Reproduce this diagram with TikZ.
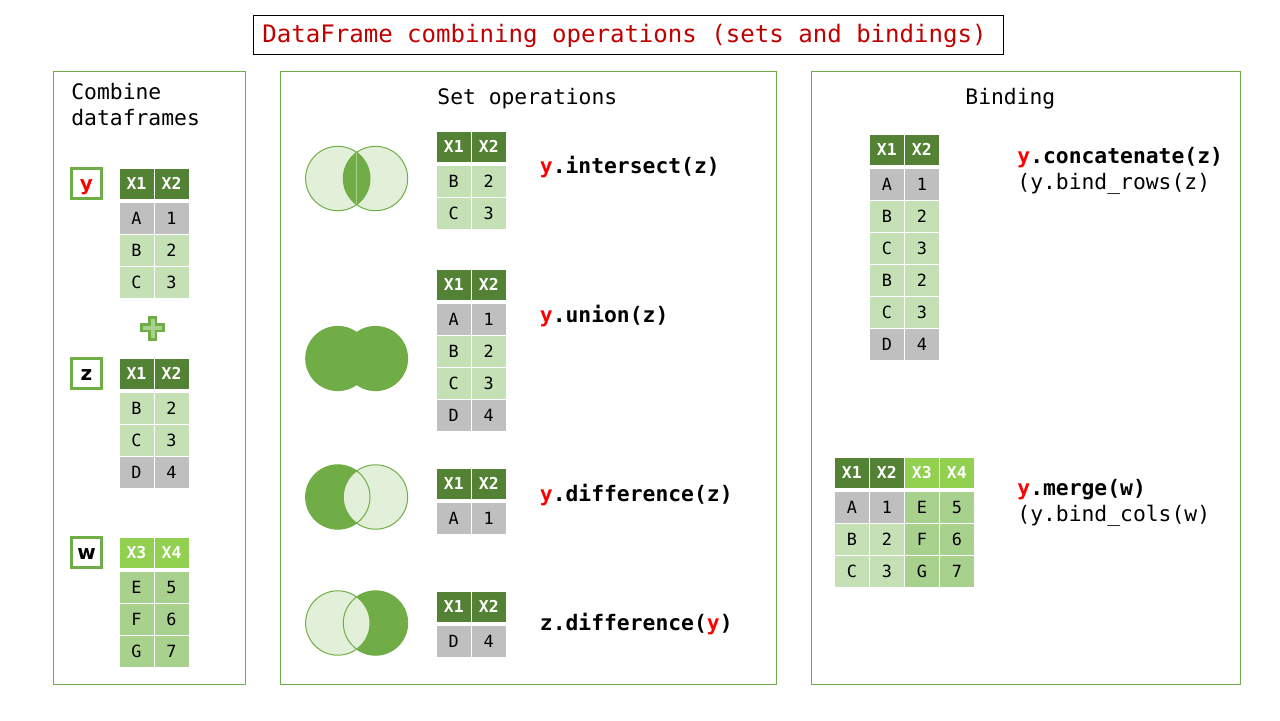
\documentclass[tikz,border=0pt]{standalone}
\usepackage{fontspec}
\setmonofont{DejaVu Sans Mono}
\setsansfont{DejaVu Sans}
\usetikzlibrary{positioning}

\definecolor{ringgreen}{HTML}{70AD47}
\definecolor{palegreen}{HTML}{E2F0D9}
\definecolor{headdark}{HTML}{548235}
\definecolor{headlime}{HTML}{92D050}
\definecolor{rowlight}{HTML}{C5E0B4}
\definecolor{rowmid}{HTML}{A9D18E}
\definecolor{rowgrey}{HTML}{BFBFBF}
\definecolor{titlered}{HTML}{C00000}

\begin{document}
\begin{tikzpicture}[
  x=0.5pt, y=-0.5pt,
  panel/.style={rectangle, draw=ringgreen, line width=0.5pt, anchor=north west, inner sep=0pt, outer sep=0pt},
  heading/.style={anchor=base west, inner sep=0pt, align=left, font=\ttfamily\fontsize{10.67}{13}\selectfont},
  opname/.style={anchor=base west, inner sep=0pt, font=\ttfamily\bfseries\fontsize{10.67}{12.6}\selectfont},
  opnote/.style={anchor=base west, inner sep=0pt, font=\ttfamily\fontsize{10.67}{12.6}\selectfont},
  tag/.style={rectangle, draw=ringgreen, line width=1.5pt, fill=white, minimum size=15pt, inner sep=0pt, text height=7.5pt, text depth=0.5pt, font=\sffamily\bfseries\fontsize{10}{12}\selectfont},
  cell/.style={rectangle, draw=white, line width=0.5pt, outer sep=0pt, inner sep=0pt, minimum width=17.5pt, minimum height=16pt, font=\ttfamily\fontsize{8.4}{9}\selectfont},
  hcell/.style={cell, text=white, minimum height=15.5pt, font=\ttfamily\bfseries\fontsize{8.2}{9}\selectfont},
  hd/.style={hcell, fill=headdark},
  hl/.style={hcell, fill=headlime},
  gy/.style={cell, fill=rowgrey},
  lt/.style={cell, fill=rowlight},
  md/.style={cell, fill=rowmid},
  venn/.style={draw=ringgreen, line width=0.5pt}
]
\useasboundingbox (0,0) rectangle (1280,720);

% Title and panels
\node[rectangle, draw=black, line width=0.5pt, anchor=north west, minimum width=375pt, minimum height=19.5pt, inner sep=0pt, outer sep=0pt] (titlebox) at (253.5,15) {};
\node[anchor=west, inner sep=0pt, text=titlered, font=\ttfamily\fontsize{12.03}{14}\selectfont] (title) at (262,35.5) {DataFrame combining operations (sets and bindings)};

\node[panel, minimum width=96pt, minimum height=306.5pt] (p_comb) at (53.5,71.5) {};
\node[panel, minimum width=248pt, minimum height=306.5pt] (p_sets) at (280.5,71.5) {};
\node[panel, minimum width=214.5pt, minimum height=306.5pt] (p_bind) at (811.5,71.5) {};

\node[heading] (h_comb) at (71,125) {Combine\\dataframes};
\node[heading] (h_sets) at (437,104) {Set operations};
\node[heading] (h_bind) at (965,104) {Binding};

% Tags of the inputs
\node[tag, text=red] (t_y) at (86.5,183) {y};
\node[tag] (t_z) at (86.5,373.5) {z};
\node[tag] (t_w) at (86.5,552.5) {w};

% Plus sign
\draw[ringgreen, line width=1.25pt, fill=rowmid] (149.5,317.3) -- (156.1,317.3) -- (156.1,324.5) -- (163.7,324.5) -- (163.7,331.1) -- (156.1,331.1) -- (156.1,339.7) -- (149.5,339.7) -- (149.5,331.1) -- (141.3,331.1) -- (141.3,324.5) -- (149.5,324.5) -- cycle;

% Tables
\foreach \tname/\tx/\ty/\hs/\ha/\hb/\rows in {
    y/119/168/hd/X1/X2/{A/1/gy,B/2/lt,C/3/lt},
    z/119/358/hd/X1/X2/{B/2/lt,C/3/lt,D/4/gy},
    w/119/537/hl/X3/X4/{E/5/md,F/6/md,G/7/md},
    inter/436.3/131/hd/X1/X2/{B/2/lt,C/3/lt},
    union/436.3/269/hd/X1/X2/{A/1/gy,B/2/lt,C/3/lt,D/4/gy},
    dify/436.3/468/hd/X1/X2/{A/1/gy},
    difz/436.3/591/hd/X1/X2/{D/4/gy},
    conc/869.3/134/hd/X1/X2/{A/1/gy,B/2/lt,C/3/lt,B/2/lt,C/3/lt,D/4/gy},
    mrgl/834.3/457/hd/X1/X2/{A/1/gy,B/2/lt,C/3/lt},
    mrgr/904.3/457/hl/X3/X4/{E/5/md,F/6/md,G/7/md}} {
  \node[\hs, anchor=north west] (\tname-ha) at (\tx,\ty) {\ha};
  \node[\hs, right=0pt of \tname-ha] (\tname-hb) {\hb};
  \foreach \a/\b/\c [count=\r] in \rows {
    \node[\c, anchor=north west] (\tname-a\r) at (\tx,{\ty+34.2+(\r-1)*32}) {\a};
    \node[\c, right=0pt of \tname-a\r] (\tname-b\r) {\b};
  }
}

% Venn: intersect
\fill[palegreen] (337.8,178.5) circle[radius=16.1pt] (375.5,178.5) circle[radius=16.1pt];
\begin{scope}
  \clip (337.8,178.5) circle[radius=16.1pt];
  \fill[ringgreen] (375.5,178.5) circle[radius=16.1pt];
\end{scope}
\draw[rowmid, line width=0.3pt] (356.7,153) -- (356.7,204);
\draw[venn] (337.8,178.5) circle[radius=16.1pt] (375.5,178.5) circle[radius=16.1pt];

% Venn: union
\fill[ringgreen] (337.8,358.5) circle[radius=16.3pt] (375.5,358.5) circle[radius=16.3pt];

% Venn: y minus z
\fill[ringgreen] (337.8,497) circle[radius=16.1pt];
\fill[palegreen] (375.5,497) circle[radius=16.1pt];
\draw[venn] (337.8,497) circle[radius=16.1pt] (375.5,497) circle[radius=16.1pt];

% Venn: z minus y
\fill[ringgreen] (375.5,623) circle[radius=16.1pt];
\fill[palegreen] (337.8,623) circle[radius=16.1pt];
\draw[venn] (337.8,623) circle[radius=16.1pt] (375.5,623) circle[radius=16.1pt];

% Operation names
\node[opname] (o_inter) at (539.5,173.5) {{\color{red}y}.intersect(z)};
\node[opname] (o_union) at (539.5,322.5) {{\color{red}y}.union(z)};
\node[opname] (o_dify) at (539.5,501.5) {{\color{red}y}.difference(z)};
\node[opname] (o_difz) at (539.5,630.5) {z.difference({\color{red}y})};
\node[opname] (o_conc) at (1017,163.5) {{\color{red}y}.concatenate(z)};
\node[opnote] (n_conc) at (1017,189.5) {(y.bind\_rows(z)};
\node[opname] (o_mrg) at (1017,495.5) {{\color{red}y}.merge(w)};
\node[opnote] (n_mrg) at (1017,521.5) {(y.bind\_cols(w)};

\end{tikzpicture}
\end{document}
